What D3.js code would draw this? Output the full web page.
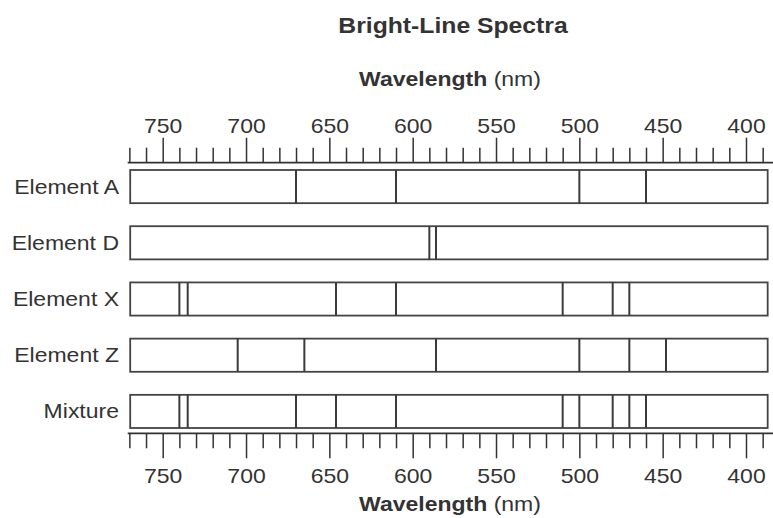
<!DOCTYPE html>
<html lang="en">
<head>
    <meta charset="UTF-8">
    <script src="https://d3js.org/d3.v7.min.js"></script>
    <title>Bright-Line Spectra</title>
    <style>
        body { margin: 0; background: #fff; }
        svg { display: block; }
        text { font-family: "Liberation Sans", Arial, sans-serif; fill: #333; }
        .tick line { stroke: #333; stroke-width: 1.5px; }
        .axis-line { stroke: #333; stroke-width: 1.8px; }
        .box { fill: #fff; stroke: #444; stroke-width: 1.8px; }
        .line { stroke: #3a3a3a; stroke-width: 2px; }
    </style>
</head>
<body>
    <svg width="773" height="518"></svg>
    <script>
        // spectra data (wavelengths in nm)
        var elements = ["Element A", "Element D", "Element X", "Element Z", "Mixture"];
        var elementA = [670, 610, 500, 460];
        var elementD = [590, 586];
        var elementX = [740, 735, 646, 610, 510, 480, 470];
        var elementZ = [705, 665, 586, 500, 470, 448];
        var mixture = [740, 735, 670, 646, 610, 510, 500, 480, 470, 460];
        var spectra = [elementA, elementD, elementX, elementZ, mixture];
        var tickValues = d3.range(390, 780, 10);

        var svg = d3.select("svg");
        var sx = 1.15; // horizontal stretch of the lettering

        var x = d3.scaleLinear().domain([750, 400]).range([162.7, 746]);
        var y = d3.scaleBand().domain(elements).range([170, 428]).paddingInner(0.41).paddingOuter(0);

        var topY = 162.7, bottomY = 433.3;

        function stretchText(g, tx, ty, anchor) {
            return g.append("g").attr("transform", "translate(" + tx + "," + ty + ")")
                .append("text").attr("text-anchor", anchor).attr("transform", "scale(" + sx + ",1)");
        }

        // title
        stretchText(svg, 453, 33, "middle")
            .style("font-size", "21.5px").style("font-weight", "bold").text("Bright-Line Spectra");

        function axisTitle(ty) {
            var t = stretchText(svg, 450, ty, "middle").style("font-size", "20px");
            t.append("tspan").style("font-weight", "bold").text("Wavelength");
            t.append("tspan").text(" (nm)");
        }
        axisTitle(86);
        axisTitle(511);

        // axes
        var fmt = d => d % 50 === 0 ? d : "";
        var gTop = svg.append("g").attr("transform", "translate(0," + topY + ")")
            .call(d3.axisTop(x).tickValues(tickValues).tickFormat(fmt).tickSizeOuter(0));
        var gBot = svg.append("g").attr("transform", "translate(0," + bottomY + ")")
            .call(d3.axisBottom(x).tickValues(tickValues).tickFormat(fmt).tickSizeOuter(0));

        [gTop, gBot].forEach(function(g, i) {
            var k = i === 0 ? -1 : 1;
            g.select(".domain").remove();
            g.selectAll(".tick line").attr("stroke", null)
                .attr("y2", d => k * (d % 50 === 0 ? 25 : 15));
            g.selectAll(".tick text").attr("fill", null)
                .attr("dy", 0).attr("y", i === 0 ? -30 : 50)
                .attr("transform", "scale(" + sx + ",1)")
                .style("font-size", "20px");
            g.attr("font-family", null).attr("font-size", null);
        });

        svg.append("line").attr("class", "axis-line")
            .attr("x1", x(771)).attr("x2", 773).attr("y1", topY).attr("y2", topY);
        svg.append("line").attr("class", "axis-line")
            .attr("x1", x(771)).attr("x2", 773).attr("y1", bottomY).attr("y2", bottomY);

        // spectrum rows
        var rows = svg.append("g").selectAll("g")
            .data(elements)
            .enter().append("g")
            .attr("transform", d => "translate(0," + y(d) + ")");

        rows.append("rect").attr("class", "box")
            .attr("x", x(769.5)).attr("y", 0)
            .attr("width", x(387) - x(769.5)).attr("height", y.bandwidth());

        rows.selectAll("line")
            .data((d, i) => spectra[i])
            .enter().append("line").attr("class", "line")
            .attr("x1", d => x(d)).attr("x2", d => x(d))
            .attr("y1", 0).attr("y2", y.bandwidth());

        rows.each(function(d) {
            stretchText(d3.select(this), 119, y.bandwidth() / 2 + 7, "end")
                .style("font-size", "20px").text(d);
        });
    </script>
</body>
</html>
